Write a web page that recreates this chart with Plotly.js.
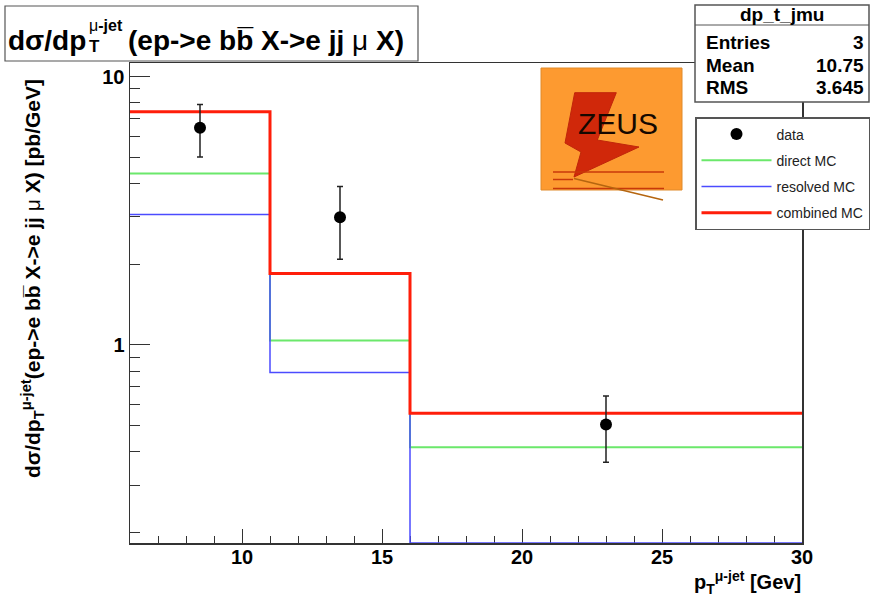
<!DOCTYPE html>
<html>
<head>
<meta charset="utf-8">
<script src="https://cdn.plot.ly/plotly-3.0.1.min.js"></script>
<style>
  html, body { margin: 0; padding: 0; background: #fff; }
  #chart { width: 872px; height: 599px; }
</style>
</head>
<body>
<div id="chart"></div>
<script>
// Bin edges of the muon-jet pT histogram (GeV)
const binEdges = [6, 11, 16, 30];
// Monte Carlo predictions per bin (pb/GeV)
const directMC   = [4.35, 1.04, 0.416];
const resolvedMC = [3.06, 0.79, 0];
const combinedMC = [7.40, 1.845, 0.557];
// Measured points: bin centres, cross sections and errors
const dataPt   = [8.5, 13.5, 23];
const dataXsec = [6.44, 2.99, 0.506];
const dataErr  = [1.42, 0.905, 0.14];
// Axis ticks
const xTickVals  = [10, 15, 20, 25, 30];
const yTickVals  = [1, 10];
const yTickText  = ['1', '10'];
const yMinorVals = [0.2, 0.3, 0.4, 0.5, 0.6, 0.7, 0.8, 0.9, 2, 3, 4, 5, 6, 7, 8, 9];
// Legend entries
const legendNames = ['data', 'direct MC', 'resolved MC', 'combined MC'];
// Statistics box
const statsTitle  = 'dp_t_jmu';
const statsLabels = ['Entries', 'Mean', 'RMS'];
const statsValues = ['3', '10.75', '3.645'];

// Frame geometry in page pixels
const FW = 872, FH = 599;
const L = 130, R = 802, T = 63, B = 543;
const W = R - L, H = B - T;
const px = x => (x - L) / W;
const py = y => (B - y) / H;

const yMin = 0.183, yMax = 11.23;
const yRange = [Math.log10(yMin), Math.log10(yMax)];

// Histogram outline: empty bins sit on the frame floor, as in a log-scale histogram
function stepY(vals) {
  return vals.concat([vals[vals.length - 1]]).map(v => (v > 0 ? v : yMin));
}

const FONT = 'Liberation Sans, Arial, Helvetica, sans-serif';

const traces = [
  {
    x: binEdges, y: stepY(directMC), type: 'scatter', mode: 'lines',
    line: { shape: 'hv', color: '#6be86b', width: 2 },
    name: legendNames[1], legendrank: 2, legendgroup: 'g2', hoverinfo: 'skip'
  },
  {
    x: binEdges, y: stepY(resolvedMC), type: 'scatter', mode: 'lines',
    line: { shape: 'hv', color: '#4b4bff', width: 1.5 },
    name: legendNames[2], legendrank: 3, legendgroup: 'g3', hoverinfo: 'skip'
  },
  {
    x: binEdges, y: stepY(combinedMC), type: 'scatter', mode: 'lines',
    line: { shape: 'hv', color: '#ff1e0a', width: 3 },
    name: legendNames[3], legendrank: 4, legendgroup: 'g4', hoverinfo: 'skip'
  },
  {
    x: dataPt, y: dataXsec, type: 'scatter', mode: 'markers',
    marker: { color: '#000', size: 12 },
    error_y: { type: 'data', array: dataErr, visible: true, color: '#222', thickness: 1.5, width: 3 },
    name: legendNames[0], legendrank: 1, legendgroup: 'g1', hoverinfo: 'skip'
  }
];

const shapes = [];
const annotations = [];

// Title box
shapes.push({ type: 'rect', xref: 'paper', yref: 'paper', layer: 'above',
  x0: px(5), x1: px(418), y0: py(6), y1: py(61),
  fillcolor: '#fff', line: { color: '#555', width: 1.2 } });
const titleFont = { family: FONT, size: 28, color: '#000' };
annotations.push({ xref: 'paper', yref: 'paper', x: px(6), y: py(40), xanchor: 'left', yanchor: 'middle',
  text: '<b>dσ/dp</b>', showarrow: false, font: titleFont });
annotations.push({ xref: 'paper', yref: 'paper', x: px(87), y: py(47), xanchor: 'left', yanchor: 'middle',
  text: '<b>T</b>', showarrow: false, font: { family: FONT, size: 17, color: '#000' } });
annotations.push({ xref: 'paper', yref: 'paper', x: px(87), y: py(26), xanchor: 'left', yanchor: 'middle',
  text: 'μ<b>-jet</b>', showarrow: false, font: { family: FONT, size: 16, color: '#000' } });
annotations.push({ xref: 'paper', yref: 'paper', x: px(126), y: py(40), xanchor: 'left', yanchor: 'middle',
  text: '<b>(ep-&gt;e bb\u0305 X-&gt;e jj </b>μ<b> X)</b>', showarrow: false, font: titleFont });

// Statistics box
shapes.push({ type: 'rect', xref: 'paper', yref: 'paper', layer: 'above',
  x0: px(695), x1: px(869), y0: py(5), y1: py(102),
  fillcolor: '#fff', line: { color: '#555', width: 1.5 } });
shapes.push({ type: 'line', xref: 'paper', yref: 'paper', layer: 'above',
  x0: px(695), x1: px(869), y0: py(25), y1: py(25), line: { color: '#555', width: 1 } });
const statsFont = { family: FONT, size: 19, color: '#000', weight: 'bold' };
annotations.push({ xref: 'paper', yref: 'paper', x: px(782), y: py(15), xanchor: 'center', yanchor: 'middle',
  text: statsTitle, showarrow: false, font: statsFont });
const statsRowY = [43, 65, 87];
statsLabels.forEach((lab, i) => {
  annotations.push({ xref: 'paper', yref: 'paper', x: px(704), y: py(statsRowY[i]), xanchor: 'left', yanchor: 'middle',
    text: lab, showarrow: false, font: statsFont });
  annotations.push({ xref: 'paper', yref: 'paper', x: px(866), y: py(statsRowY[i]), xanchor: 'right', yanchor: 'middle',
    text: statsValues[i], showarrow: false, font: statsFont });
});

// ZEUS logo
const logoShapes = [
  { type: 'rect', x0: px(541), x1: px(682), y0: py(68), y1: py(190),
    fillcolor: '#fd9a30', line: { color: '#e08a2a', width: 1 } },
  { type: 'path', path: 'M' + [
      [574.7, 92.7], [616.3, 92.7], [597.3, 140], [639, 147], [574, 177],
      [581, 152], [565, 143]
    ].map(p => px(p[0]) + ',' + py(p[1])).join(' L') + ' Z',
    fillcolor: '#d0280a', line: { color: '#c0260a', width: 1 } },
  { type: 'line', x0: px(553), x1: px(664), y0: py(172), y1: py(172), line: { color: '#c8380a', width: 1.5 } },
  { type: 'line', x0: px(553), x1: px(573), y0: py(179.5), y1: py(179.5), line: { color: '#c8380a', width: 1.5 } },
  { type: 'line', x0: px(553), x1: px(664), y0: py(188.5), y1: py(188.5), line: { color: '#c8380a', width: 1.5 } },
  { type: 'line', x0: px(574), x1: px(663), y0: py(178.5), y1: py(200), line: { color: '#b5650f', width: 1.5 } }
];
logoShapes.forEach(s => shapes.push(Object.assign({ xref: 'paper', yref: 'paper', layer: 'above' }, s)));
annotations.push({ xref: 'paper', yref: 'paper', x: px(618), y: py(123), xanchor: 'center', yanchor: 'middle',
  text: 'ZEUS', showarrow: false, font: { family: FONT, size: 30, color: '#150800' } });

// Axis titles
annotations.push({ xref: 'paper', yref: 'paper', x: px(32), y: py(279), xanchor: 'center', yanchor: 'middle',
  textangle: -90, showarrow: false,
  text: '<b>dσ/dp<sub>T</sub><sup>μ-jet</sup>(ep-&gt;e bb\u0305 X-&gt;e jj </b>μ<b> X) [pb/GeV]</b>',
  font: { family: FONT, size: 21, color: '#000' } });
annotations.push({ xref: 'paper', yref: 'paper', x: px(803), y: py(582), xanchor: 'right', yanchor: 'middle',
  showarrow: false, text: '<b>p<sub>T</sub><sup>μ-jet</sup> [Gev]</b>',
  font: { family: FONT, size: 20, color: '#000' } });

const layout = {
  width: FW, height: FH,
  margin: { l: L, r: FW - R, t: T, b: FH - B, pad: 0, autoexpand: false },
  paper_bgcolor: '#fff', plot_bgcolor: '#fff',
  font: { family: FONT, color: '#000' },
  showlegend: true,
  legend: {
    x: px(695), y: py(117), xanchor: 'left', yanchor: 'top',
    bgcolor: '#fff', bordercolor: '#555', borderwidth: 1.5,
    font: { family: FONT, size: 14, color: '#222' },
    tracegroupgap: 5, itemwidth: 70, traceorder: 'grouped'
  },
  xaxis: {
    range: [binEdges[0], binEdges[binEdges.length - 1]],
    tickvals: xTickVals, ticks: 'inside', ticklen: 14, tickwidth: 1, tickcolor: '#333',
    minor: { dtick: 1, tick0: 0, ticks: 'inside', ticklen: 7, tickcolor: '#333', tickwidth: 1 },
    showgrid: false, zeroline: false,
    showline: true, mirror: true, linecolor: '#333', linewidth: 1.5,
    tickfont: { family: FONT, size: 20, color: '#000', weight: 'bold' },
    ticklabelstandoff: -5,
    layer: 'below traces', fixedrange: true
  },
  yaxis: {
    type: 'log', range: yRange,
    tickvals: yTickVals, ticktext: yTickText,
    ticks: 'inside', ticklen: 20, tickwidth: 1, tickcolor: '#333',
    minor: { tickvals: yMinorVals, ticks: 'inside', ticklen: 10, tickcolor: '#333', tickwidth: 1 },
    showgrid: false, zeroline: false,
    showline: true, mirror: true, linecolor: '#333', linewidth: 1.5,
    tickfont: { family: FONT, size: 20, color: '#000', weight: 'bold' },
    layer: 'below traces', fixedrange: true
  },
  shapes: shapes,
  annotations: annotations
};

Plotly.newPlot('chart', traces, layout, { displayModeBar: false, staticPlot: true });
</script>
</body>
</html>
